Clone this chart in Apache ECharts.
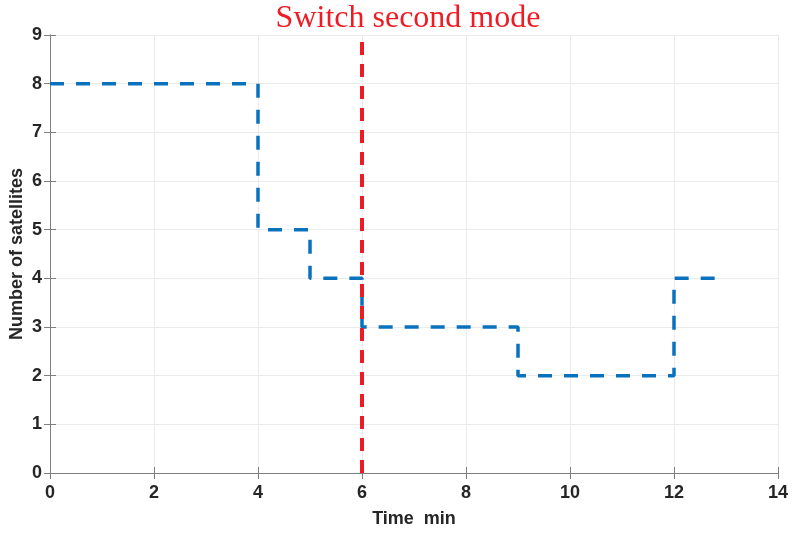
<!DOCTYPE html>
<html>
<head>
<meta charset="utf-8">
<script src="https://cdn.jsdelivr.net/npm/echarts@6/dist/echarts.min.js"></script>
<style>
  html, body { margin: 0; padding: 0; background: #fff; }
  #chart { width: 792px; height: 535px; }
</style>
</head>
<body>
<div id="chart"></div>
<script>
// Satellite count over time (step changes) and the moment the second mode is switched on
const times = [0, 4, 5, 6, 9, 12, 13];
const satellites = [8, 5, 4, 3, 2, 4, 4];
const switchTime = 6;
const xTicks = [0, 2, 4, 6, 8, 10, 12, 14];
const yTicks = [0, 1, 2, 3, 4, 5, 6, 7, 8, 9];
const titleText = 'Switch second mode';
const xName = 'Time  min';
const yName = 'Number of satellites';

const axisGray = '#7f7f7f';
const tickFont = { fontFamily: 'Liberation Sans, Arial, sans-serif', fontWeight: 'bold', fontSize: 18, color: '#262626' };

const stepData = times.map((t, i) => [t, satellites[i]]);
const switchData = [[switchTime, yTicks[0]], [switchTime, yTicks[yTicks.length - 1]]];

const chart = echarts.init(document.getElementById('chart'), null, { renderer: 'canvas' });

const baseX = {
  type: 'value', min: xTicks[0], max: xTicks[xTicks.length - 1], interval: 2,
  axisLine: { show: true, lineStyle: { color: axisGray, width: 1 } },
  axisTick: { show: true, inside: true, length: 6, lineStyle: { color: axisGray } },
  splitLine: { show: false }
};
const baseY = {
  type: 'value', min: yTicks[0], max: yTicks[yTicks.length - 1], interval: 1,
  axisLine: { show: true, lineStyle: { color: axisGray, width: 1 } },
  axisTick: { show: true, inside: true, length: 6, lineStyle: { color: axisGray } },
  splitLine: { show: false }
};

chart.setOption({
  animation: false,
  backgroundColor: '#ffffff',
  graphic: [{
    type: 'text', x: 408, y: 19,
    style: {
      text: titleText, fill: '#ee1c25',
      font: '32px "Liberation Serif", "Times New Roman", serif',
      textAlign: 'center', textVerticalAlign: 'middle'
    }
  }],
  grid: { left: 50, right: 14, top: 35, bottom: 62, containLabel: false, outerBoundsMode: 'none' },
  xAxis: [
    Object.assign({}, baseX, {
      position: 'bottom',
      axisLabel: Object.assign({ margin: 11 }, tickFont),
      splitLine: { show: true, lineStyle: { color: '#ebebeb', width: 1 } },
      name: xName, nameLocation: 'middle', nameGap: 46, nameMoveOverlap: false,
      nameTextStyle: { fontFamily: 'Liberation Sans, Arial, sans-serif', fontWeight: 'bold', fontSize: 18, color: '#262626', verticalAlign: 'middle' }
    }),
    Object.assign({}, baseX, { position: 'top', axisLabel: { show: false } })
  ],
  yAxis: [
    Object.assign({}, baseY, {
      position: 'left',
      axisLabel: Object.assign({ margin: 8 }, tickFont),
      splitLine: { show: true, lineStyle: { color: '#ebebeb', width: 1 } },
      name: yName, nameLocation: 'middle', nameGap: 33, nameMoveOverlap: false,
      nameTextStyle: { fontFamily: 'Liberation Sans, Arial, sans-serif', fontWeight: 'bold', fontSize: 18, color: '#262626', verticalAlign: 'middle' }
    }),
    Object.assign({}, baseY, { position: 'right', axisLabel: { show: false } })
  ],
  series: [
    {
      type: 'line', name: 'satellites', step: 'end', data: stepData,
      xAxisIndex: 0, yAxisIndex: 0,
      symbol: 'none', clip: false,
      lineStyle: { color: '#0a72bd', width: 3.5, type: [14, 12] }
    },
    {
      type: 'line', name: 'switch', data: switchData,
      xAxisIndex: 0, yAxisIndex: 0,
      symbol: 'none', clip: false,
      lineStyle: { color: '#ec1c24', width: 4, type: [13, 9] }
    }
  ]
});
</script>
</body>
</html>
